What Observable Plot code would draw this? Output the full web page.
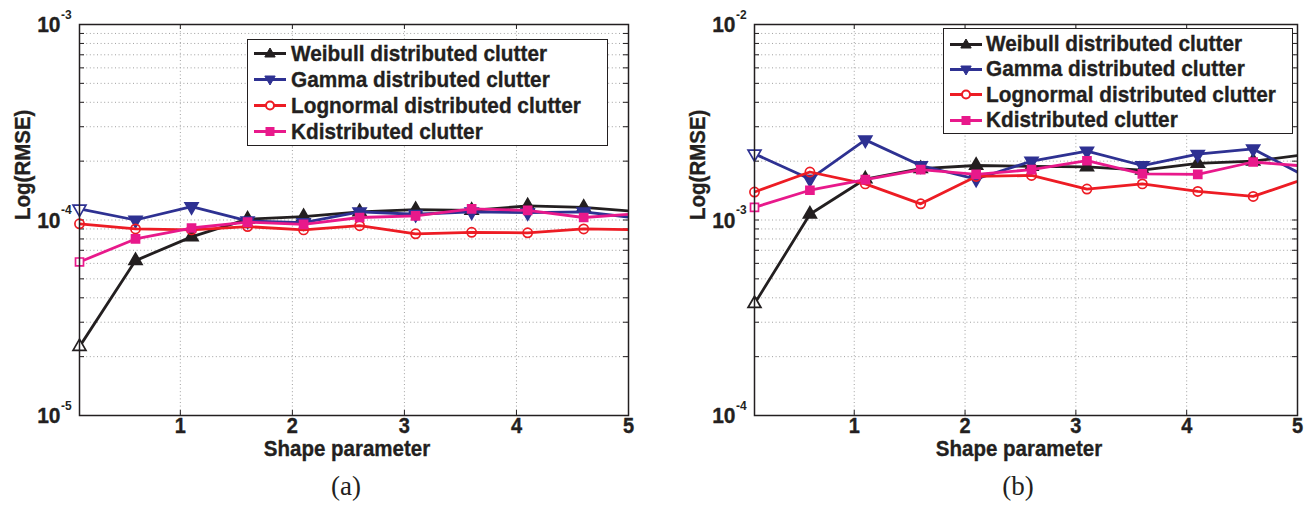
<!DOCTYPE html>
<html>
<head>
<meta charset="utf-8">
<script src="https://cdn.jsdelivr.net/npm/d3@7"></script>
<script src="https://cdn.jsdelivr.net/npm/@observablehq/plot@0.6"></script>
<style>
  html, body { margin: 0; padding: 0; background: #fff; }
  #wrap { position: relative; width: 1315px; height: 506px; overflow: hidden; }
  .panel { position: absolute; top: 0; }
  .legend {
    position: absolute; box-sizing: border-box; background: #fff;
    border: 1.5px solid #231f20;
    font-family: "Liberation Sans", Arial, sans-serif; font-weight: bold;
    color: #231f20;
  }
  .legend .row { display: flex; align-items: center; white-space: nowrap; }
  .legend svg { flex: none; }
  .legend span { display: inline-block; transform-origin: 0 50%; -webkit-text-stroke: 0.35px #231f20; }
</style>
</head>
<body>
<div id="wrap"></div>
<script>
// ---- data ----
const xs = [0.1, 0.6, 1.1, 1.6, 2.1, 2.6, 3.1, 3.6, 4.1, 4.6, 5.1];
const seriesNames = ["Weibull distributed clutter", "Gamma distributed clutter", "Lognormal distributed clutter", "Kdistributed clutter"];
const seriesColors = ["#231f20", "#2e3192", "#ed1c24", "#e8198b"];

// panel (a)
const weibullA   = [2.25e-5, 6.2e-5, 8.2e-5, 1.01e-4, 1.04e-4, 1.10e-4, 1.13e-4, 1.12e-4, 1.18e-4, 1.16e-4, 1.10e-4];
const gammaA     = [1.14e-4, 1.00e-4, 1.17e-4, 0.99e-4, 0.97e-4, 1.10e-4, 1.07e-4, 1.10e-4, 1.09e-4, 1.10e-4, 1.02e-4];
const lognormalA = [0.956e-4, 0.90e-4, 0.89e-4, 0.925e-4, 0.89e-4, 0.935e-4, 0.85e-4, 0.865e-4, 0.86e-4, 0.90e-4, 0.89e-4];
const kA         = [6.1e-5, 8.0e-5, 0.91e-4, 0.975e-4, 0.95e-4, 1.03e-4, 1.05e-4, 1.14e-4, 1.12e-4, 1.03e-4, 1.08e-4];

// panel (b)
const weibullB   = [3.73e-4, 1.07e-3, 1.62e-3, 1.83e-3, 1.90e-3, 1.88e-3, 1.87e-3, 1.80e-3, 1.95e-3, 2.00e-3, 2.17e-3];
const gammaB     = [2.18e-3, 1.62e-3, 2.57e-3, 1.90e-3, 1.62e-3, 2.00e-3, 2.25e-3, 1.90e-3, 2.17e-3, 2.31e-3, 1.64e-3];
const lognormalB = [1.39e-3, 1.76e-3, 1.53e-3, 1.21e-3, 1.67e-3, 1.69e-3, 1.44e-3, 1.53e-3, 1.40e-3, 1.32e-3, 1.65e-3];
const kB         = [1.16e-3, 1.42e-3, 1.61e-3, 1.81e-3, 1.71e-3, 1.81e-3, 2.01e-3, 1.72e-3, 1.71e-3, 1.98e-3, 1.88e-3];

// ticks
const xTicks = [1, 2, 3, 4, 5];
const yDecadesA = [1e-5, 1e-4, 1e-3];
const yExpA = ["-5", "-4", "-3"];
const yDecadesB = [1e-4, 1e-3, 1e-2];
const yExpB = ["-4", "-3", "-2"];
const xLabel = "Shape parameter";
const yLabel = "Log(RMSE)";
const captions = ["(a)", "(b)"];

// ---- helpers ----
const K = 1.08;          // text drawn taller, then narrowed back horizontally
const INK = "#231f20";

const triangleDown = {
  draw(ctx, size) {
    const s3 = Math.sqrt(3);
    const y = -Math.sqrt(size / (s3 * 3));
    ctx.moveTo(0, -2 * y);
    ctx.lineTo(-s3 * y, y);
    ctx.lineTo(s3 * y, y);
    ctx.closePath();
  }
};
const symbols = ["triangle", triangleDown, "circle", "square"];
const radii = [4.8, 4.8, 4.6, 4.5];
const hollow = [false, false, true, false];

function minorTicks(decades) {
  const out = [];
  for (let k = 0; k < decades.length - 1; k++)
    for (let m = 1; m <= 9; m++) out.push(decades[k] * m);
  out.push(decades[decades.length - 1]);
  return out;
}

function squeezeText(svg) {
  svg.querySelectorAll("text").forEach(t => {
    const g = t.closest("g");
    if (g && (g.getAttribute("font-family") || "").includes("Serif")) return;
    const tr = t.getAttribute("transform");
    if (tr) {
      t.setAttribute("transform", tr + ` scale(${1 / K},1)`);
    } else {
      const x = t.getAttribute("x") || 0, y = t.getAttribute("y") || 0;
      t.removeAttribute("x"); t.removeAttribute("y");
      t.setAttribute("transform", `translate(${x},${y}) scale(${1 / K},1)`);
    }
  });
}

function makePanel(cfg) {
  const {series, decades, exps, width, marginLeft, marginRight, caption} = cfg;
  const height = 506, marginTop = 24, marginBottom = 91;
  const pw = width - marginLeft - marginRight;
  const ph = height - marginTop - marginBottom;
  const yAll = minorTicks(decades);
  const yInner = yAll.slice(1, -1);
  const txt = {fill: INK, stroke: INK, strokeWidth: 0.35};
  const marks = [];
  // grid
  marks.push(Plot.ruleY(yInner, {y: d => d, stroke: "#a0a0a0", strokeWidth: 1, strokeDasharray: "1,2.6"}));
  marks.push(Plot.ruleX(xTicks.filter(d => d < 5), {x: d => d, stroke: "#a0a0a0", strokeWidth: 1, strokeDasharray: "1,2.6"}));
  // inward ticks
  marks.push(Plot.tickY(yAll, {y: d => d, insetRight: pw - 5, stroke: INK}));
  marks.push(Plot.tickY(yAll, {y: d => d, insetLeft: pw - 5, stroke: INK}));
  marks.push(Plot.tickX(xTicks, {x: d => d, insetTop: ph - 5, stroke: INK}));
  marks.push(Plot.tickX(xTicks, {x: d => d, insetBottom: ph - 5, stroke: INK}));
  // series
  series.forEach((vals, i) => {
    const data = xs.map((x, j) => ({x, y: vals[j]}));
    const c = seriesColors[i];
    marks.push(Plot.line(data, {x: "x", y: "y", stroke: c, strokeWidth: 2.8, clip: true}));
    marks.push(Plot.dot(data, {
      filter: d => d.x <= 5 && d.x !== xs[0],
      x: "x", y: "y", symbol: symbols[i], r: radii[i],
      fill: hollow[i] ? "none" : c, stroke: c, strokeWidth: 1.7
    }));
    marks.push(Plot.dot(data, {
      filter: d => d.x === xs[0],
      x: "x", y: "y", symbol: symbols[i], r: radii[i],
      fill: hollow[i] ? "none" : "white", stroke: c, strokeWidth: 1.7
    }));
  });
  // frame
  marks.push(Plot.frame({stroke: INK, strokeWidth: 1.5}));
  // tick labels
  marks.push(Plot.text(xTicks, {x: d => d, frameAnchor: "bottom", dy: 17, text: d => String(d), fontSize: 20 * K, ...txt}));
  marks.push(Plot.text(decades, {y: d => d, frameAnchor: "left", dx: -19, dy: 0.5, textAnchor: "end", text: () => "10", fontSize: 21 * K, ...txt}));
  marks.push(Plot.text(decades, {y: d => d, frameAnchor: "left", dx: -18.5, dy: -10, textAnchor: "start", text: (d, i) => exps[i], fontSize: 12 * K, fill: INK}));
  // axis labels
  marks.push(Plot.text([xLabel], {frameAnchor: "bottom", dy: 40, dx: -7, text: d => d, fontSize: 20.5 * K, ...txt}));
  marks.push(Plot.text([yLabel], {frameAnchor: "left", dx: -57, rotate: -90, text: d => d, fontSize: 20.5 * K, ...txt}));
  // caption
  marks.push(Plot.text([caption], {frameAnchor: "bottom", dy: 79, dx: -8, text: d => d, fontSize: 27, fontWeight: "normal", fontFamily: "'Liberation Serif', 'Times New Roman', serif", fill: INK}));

  const svg = Plot.plot({
    width, height, marginTop, marginBottom, marginLeft, marginRight,
    x: {domain: [0.1, 5], axis: null},
    y: {type: "log", domain: [decades[0], decades[decades.length - 1]], axis: null},
    style: {fontFamily: "'Liberation Sans', Arial, sans-serif", fontWeight: "bold", background: "white", overflow: "visible", color: INK},
    marks
  });
  squeezeText(svg);
  return svg;
}

function legendSymbol(i) {
  const c = seriesColors[i];
  let m = "";
  if (i === 0) m = `<path d="M16,5 L21.2,14 L10.8,14 Z" fill="${c}" stroke="${c}" stroke-width="1"/>`;
  if (i === 1) m = `<path d="M16,16 L21.2,7 L10.8,7 Z" fill="${c}" stroke="${c}" stroke-width="1"/>`;
  if (i === 2) m = `<circle cx="16" cy="10.5" r="4" fill="white" stroke="${c}" stroke-width="2"/>`;
  if (i === 3) m = `<rect x="12" y="6.5" width="8" height="8" fill="${c}" stroke="${c}" stroke-width="1"/>`;
  return `<svg width="32" height="21" viewBox="0 0 32 21"><line x1="0" y1="10.5" x2="32" y2="10.5" stroke="${c}" stroke-width="3"/>${m}</svg>`;
}

function makeLegend(cfg) {
  const d = document.createElement("div");
  d.className = "legend";
  Object.assign(d.style, {left: cfg.left + "px", top: cfg.top + "px", width: cfg.width + "px", height: cfg.height + "px", paddingTop: cfg.padTop + "px", paddingLeft: cfg.padLeft + "px"});
  d.innerHTML = seriesNames.map((n, i) =>
    `<div class="row" style="height:${cfg.rowH}px">${legendSymbol(i)}<span style="margin-left:${cfg.gap}px;font-size:${(20.8 * K).toFixed(2)}px;transform:scaleX(${(1 / K).toFixed(4)})">${n}</span></div>`
  ).join("");
  return d;
}

const wrap = document.getElementById("wrap");

const pA = makePanel({series: [weibullA, gammaA, lognormalA, kA], decades: yDecadesA, exps: yExpA, width: 657, marginLeft: 79, marginRight: 29, caption: captions[0]});
const divA = document.createElement("div"); divA.className = "panel"; divA.style.left = "0px"; divA.appendChild(pA); wrap.appendChild(divA);

const pB = makePanel({series: [weibullB, gammaB, lognormalB, kB], decades: yDecadesB, exps: yExpB, width: 658, marginLeft: 97, marginRight: 18, caption: captions[1]});
const divB = document.createElement("div"); divB.className = "panel"; divB.style.left = "657px"; divB.appendChild(pB); wrap.appendChild(divB);

wrap.appendChild(makeLegend({left: 247, top: 39, width: 361, height: 107, padTop: 0.5, padLeft: 5.5, rowH: 26, gap: 5}));
wrap.appendChild(makeLegend({left: 943, top: 28, width: 350, height: 106, padTop: 2.5, padLeft: 5.5, rowH: 25.3, gap: 4}));
</script>
</body>
</html>
